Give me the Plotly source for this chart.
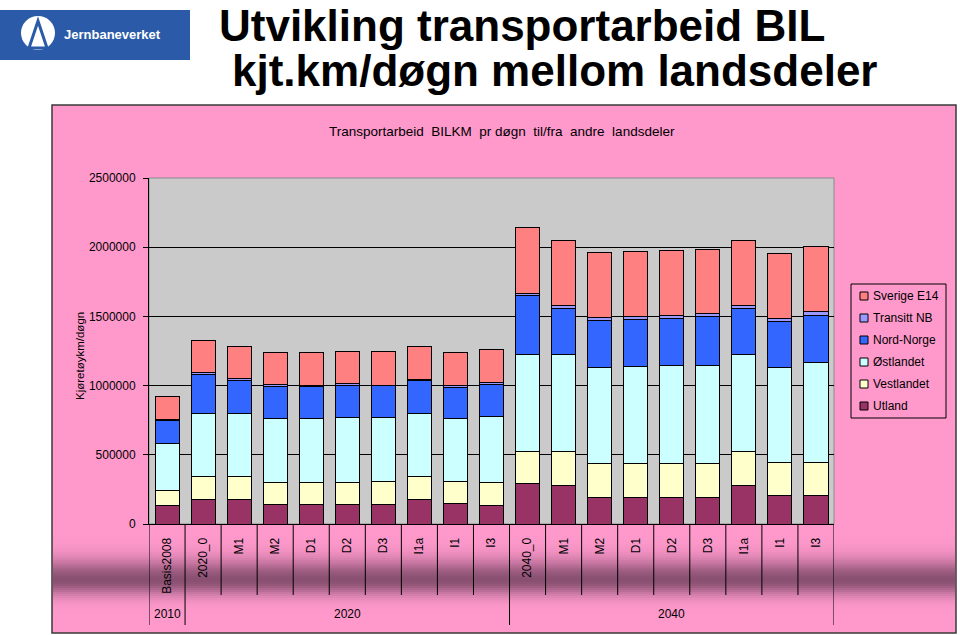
import math
import plotly.graph_objects as go

# ---------------- data ----------------
scenarios = ["Basis2008", "2020_0", "M1", "M2", "D1", "D2", "D3", "I1a", "I1", "I3",
             "2040_0", "M1", "M2", "D1", "D2", "D3", "I1a", "I1", "I3"]
years = ["2010"] + ["2020"] * 9 + ["2040"] * 9

utland = [132000, 180000, 180000, 142000, 142000, 142000, 142000, 180000, 149000, 137000,
          291000, 281000, 195000, 195000, 195000, 195000, 281000, 204000, 204000]
vestlandet = [111000, 166000, 166000, 156000, 156000, 156000, 163000, 166000, 156000, 166000,
              233000, 243000, 245000, 245000, 245000, 245000, 243000, 243000, 243000]
ostlandet = [337000, 455000, 455000, 464000, 464000, 472000, 465000, 455000, 457000, 474000,
             703000, 703000, 690000, 700000, 707000, 707000, 703000, 683000, 722000]
nord_norge = [168000, 276000, 238000, 229000, 229000, 233000, 228000, 236000, 224000, 228000,
              425000, 327000, 339000, 339000, 339000, 349000, 327000, 332000, 339000]
transitt_nb = [10000, 20000, 10000, 14000, 9000, 9000, 5000, 9000, 12000, 20000,
               15000, 26000, 22000, 19000, 22000, 22000, 26000, 22000, 24000]
sverige_e14 = [161000, 231000, 233000, 236000, 241000, 236000, 245000, 236000, 243000, 233000,
               478000, 471000, 474000, 474000, 471000, 469000, 471000, 474000, 471000]

series_names = ["Utland", "Vestlandet", "Østlandet", "Nord-Norge", "Transitt NB", "Sverige E14"]
series_values = [utland, vestlandet, ostlandet, nord_norge, transitt_nb, sverige_e14]
series_colors = ["#993366", "#FFFFCC", "#CCFFFF", "#3366FF", "#9999FF", "#FF8080"]

# ---------------- geometry helpers (layout decoration only) ----------------
W, H = 960, 635
PL, PR, PT, PB = 149, 834, 178, 524  # plot area in pixels


def px(x):
    return (x - PL) / (PR - PL)


def py(y):
    return (PB - y) / (PB - PT)


FONT = "Liberation Sans, Arial, sans-serif"
PINK = (255, 153, 204)
DARK = (124, 72, 103)

x_idx = list(range(len(scenarios)))

fig = go.Figure()
for name, vals, color in zip(series_names, series_values, series_colors):
    fig.add_trace(go.Bar(
        x=x_idx, y=vals, name=name, showlegend=False,
        marker=dict(color=color, line=dict(color="#000000", width=1)),
    ))

shapes = []
# pink chart box
shapes.append(dict(type="rect", xref="paper", yref="paper", layer="below",
                   x0=px(52), x1=px(956), y0=py(633), y1=py(105),
                   fillcolor="rgb(255,153,204)", line=dict(color="#3a3a3a", width=1.5)))
# dark gradient band under the axis labels
y = 526
while y < 622:
    d = y + 1 - 580
    s = 20.0 if d < 0 else 15.0
    a = 0.9 * math.exp(-(d / s) ** 2)
    c = tuple(int(round(PINK[k] * (1 - a) + DARK[k] * a)) for k in range(3))
    shapes.append(dict(type="rect", xref="paper", yref="paper", layer="below",
                       x0=px(53), x1=px(955), y0=py(y + 2), y1=py(y),
                       fillcolor="rgb(%d,%d,%d)" % c, line=dict(width=0)))
    y += 2
# gray plot area
shapes.append(dict(type="rect", xref="paper", yref="paper", layer="below",
                   x0=0, x1=1, y0=0, y1=1, fillcolor="#CACACA",
                   line=dict(color="#8a8a8a", width=1)))

# category dividers below the axis
group_bounds = set()
prev = None
for i, yr in enumerate(years):
    if yr != prev:
        group_bounds.add(i - 0.5)
    prev = yr
group_bounds.add(len(years) - 0.5)
for i in range(len(scenarios) + 1):
    xb = i - 0.5
    ybot = py(625) if xb in group_bounds else py(595)
    shapes.append(dict(type="line", xref="x", yref="paper", x0=xb, x1=xb,
                       y0=0, y1=ybot, line=dict(color="#000000", width=1)))

# legend box (custom, Excel style)
shapes.append(dict(type="rect", xref="paper", yref="paper",
                   x0=px(851), x1=px(946), y0=py(418), y1=py(284),
                   fillcolor="rgb(255,153,204)", line=dict(color="#000000", width=1)))

annotations = []
for k, (name, color) in enumerate(zip(reversed(series_names), reversed(series_colors))):
    yc = 296 + 22 * k
    shapes.append(dict(type="rect", xref="paper", yref="paper",
                       x0=px(860), x1=px(868), y0=py(yc + 4), y1=py(yc - 4),
                       fillcolor=color, line=dict(color="#000000", width=1)))
    annotations.append(dict(x=px(871), y=py(yc), xref="paper", yref="paper",
                            text=name, showarrow=False, xanchor="left", yanchor="middle",
                            font=dict(family=FONT, size=12, color="#000000")))

# logo
BLUE = "#2B5BA8"
shapes.append(dict(type="rect", xref="paper", yref="paper", x0=px(0), x1=px(190),
                   y0=py(60), y1=py(10), fillcolor=BLUE, line=dict(width=0)))
shapes.append(dict(type="circle", xref="paper", yref="paper", x0=px(21), x1=px(55),
                   y0=py(50), y1=py(16), fillcolor="#FFFFFF", line=dict(width=0)))
shapes.append(dict(type="path", xref="paper", yref="paper",
                   path="M %f,%f L %f,%f L %f,%f Z" % (px(38), py(21), px(29), py(48), px(47), py(48)),
                   fillcolor="#FFFFFF", line=dict(color=BLUE, width=3)))

# group labels
groups = []
for i, yr in enumerate(years):
    if not groups or groups[-1][0] != yr:
        groups.append([yr, []])
    groups[-1][1].append(i)
for yr, idxs in groups:
    annotations.append(dict(x=sum(idxs) / len(idxs), xref="x", y=py(614), yref="paper",
                            text=yr, showarrow=False, xanchor="center", yanchor="middle",
                            font=dict(family=FONT, size=12, color="#000000")))
# titles
annotations.append(dict(x=px(218), y=py(0), xref="paper", yref="paper",
                        text="Utvikling transportarbeid BIL", showarrow=False,
                        xanchor="left", yanchor="top", borderpad=0,
                        font=dict(family=FONT, size=44, color="#000000", weight="bold")))
annotations.append(dict(x=px(230), y=py(71), xref="paper", yref="paper",
                        text="kjt.km/døgn mellom landsdeler", showarrow=False,
                        xanchor="left", yanchor="middle",
                        font=dict(family=FONT, size=44, color="#000000", weight="bold")))
annotations.append(dict(x=px(502), y=py(132), xref="paper", yref="paper",
                        text="Transportarbeid  BILKM  pr døgn  til/fra  andre  landsdeler".replace("  ", " &nbsp;"),
                        showarrow=False, xanchor="center", yanchor="middle",
                        font=dict(family=FONT, size=13.5, color="#000000")))
annotations.append(dict(x=px(80), y=py(356), xref="paper", yref="paper",
                        text="Kjøretøykm/døgn", showarrow=False, textangle=-90,
                        xanchor="center", yanchor="middle",
                        font=dict(family=FONT, size=11.5, color="#000000")))
annotations.append(dict(x=px(62), y=py(35), xref="paper", yref="paper",
                        text="Jernbaneverket", showarrow=False,
                        xanchor="left", yanchor="middle",
                        font=dict(family=FONT, size=13, color="#FFFFFF", weight="bold")))

fig.update_layout(
    width=W, height=H,
    margin=dict(l=PL, r=W - PR, t=PT, b=H - PB),
    paper_bgcolor="#FFFFFF", plot_bgcolor="#CACACA",
    barmode="stack", bargap=0.333,
    font=dict(family=FONT, size=12, color="#000000"),
    shapes=shapes, annotations=annotations,
    showlegend=False,
    xaxis=dict(range=[-0.5, len(scenarios) - 0.5], tickmode="array", tickvals=x_idx,
               ticktext=scenarios, tickangle=-90, ticks="", showgrid=False,
               zeroline=False, showline=True, linecolor="#000000", linewidth=1,
               ticklabelstandoff=8, tickfont=dict(family=FONT, size=12, color="#000000")),
    yaxis=dict(range=[0, 2500000], dtick=500000, tickformat="d", showgrid=True,
               gridcolor="#000000", gridwidth=1, ticks="outside", ticklen=5,
               tickcolor="#000000", showline=True, linecolor="#000000", linewidth=1,
               zeroline=False, ticklabelstandoff=5,
               tickfont=dict(family=FONT, size=12, color="#000000")),
)

fig.write_html("out.html")
